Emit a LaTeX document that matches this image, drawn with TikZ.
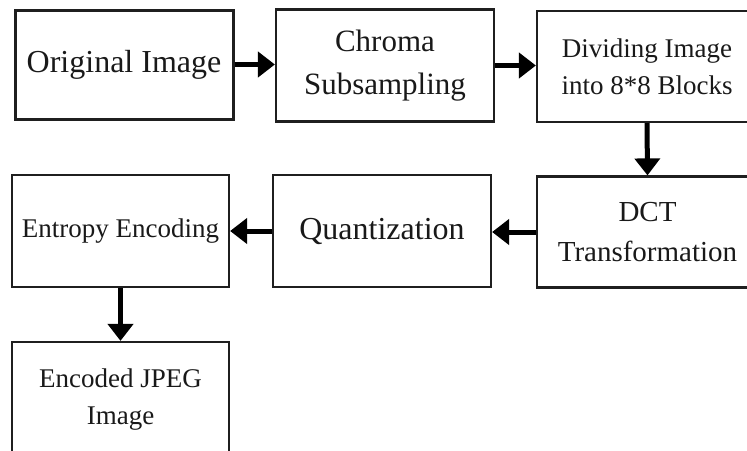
\documentclass[tikz,border=0pt]{standalone}
\usepackage{fontspec}
\setmainfont{Liberation Serif}
\usetikzlibrary{arrows.meta}

\tikzset{
  stage/.style={draw=black!88, line width=2.2pt, rectangle, inner sep=0pt,
    align=center, text=black!90},
  flow/.style={line width=5pt, draw=black,
    -{Triangle[width=25pt,length=17pt]}},
}

\begin{document}
\begin{tikzpicture}[x=1pt,y=-1pt]
  \useasboundingbox (0,0) rectangle (747,450);

  % first row
  \node[stage, line width=3pt, minimum width=218pt, minimum height=109pt,
        font=\fontsize{32}{40}\selectfont] (orig) at (124,64.5) {Original Image};
  \node[stage, minimum width=218pt, minimum height=112pt,
        font=\fontsize{31}{43}\selectfont] (chroma) at (385,65.5) {Chroma\\Subsampling};
  \node[stage, minimum width=220pt, minimum height=111pt,
        font=\fontsize{27}{37}\selectfont] (blocks) at (647,66.5) {Dividing Image\\into 8*8 Blocks};

  % second row
  \node[stage, minimum width=221pt, minimum height=111pt,
        font=\fontsize{29}{40}\selectfont] (dct) at (647.5,232) {DCT\\Transformation};
  \node[stage, minimum width=218pt, minimum height=112pt,
        font=\fontsize{32}{40}\selectfont] (quant) at (382,231) {Quantization};
  \node[stage, minimum width=217pt, minimum height=112pt,
        font=\fontsize{27}{37}\selectfont] (entropy) at (120.5,231) {Entropy Encoding};

  % last stage
  \node[stage, minimum width=217pt, minimum height=116pt,
        font=\fontsize{27}{37}\selectfont] (jpeg) at (120.5,400) {Encoded JPEG\\Image};

  % connectors
  \draw[flow] (orig.east) -- (orig.east -| chroma.west);
  \draw[flow] (chroma.east) -- (chroma.east -| blocks.west);
  \draw[flow] (blocks.south) -- (dct.north);
  \draw[flow] (dct.west) -- (dct.west -| quant.east);
  \draw[flow] (quant.west) -- (quant.west -| entropy.east);
  \draw[flow] (entropy.south) -- (jpeg.north);
\end{tikzpicture}
\end{document}
